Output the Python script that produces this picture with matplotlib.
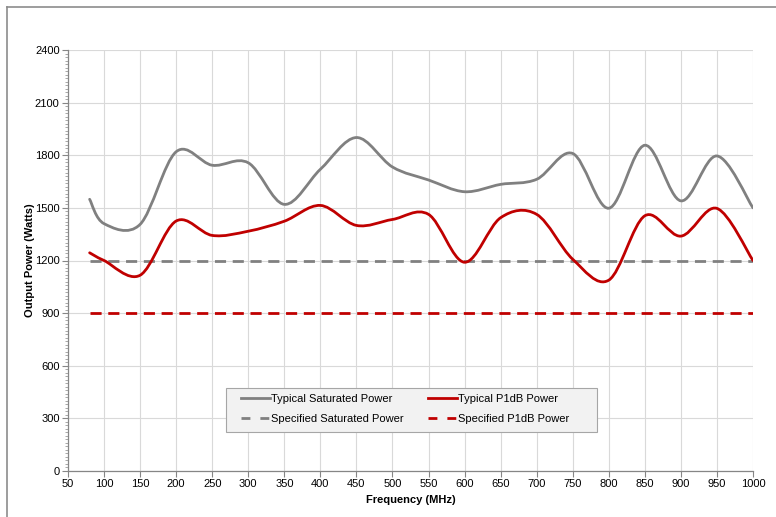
import numpy as np
import matplotlib
matplotlib.use("Agg")
import matplotlib.pyplot as plt
from matplotlib.path import Path
from matplotlib.patches import PathPatch, Rectangle
from matplotlib.lines import Line2D
from matplotlib.ticker import MultipleLocator

# ---- data ----
freq = [80, 100, 150, 200, 250, 300, 350, 400, 450, 500,
        550, 600, 650, 700, 750, 800, 850, 900, 950, 1000]
sat_typ = [1549, 1410, 1406, 1820, 1743, 1757, 1520, 1720, 1901, 1733,
           1659, 1592, 1634, 1663, 1810, 1498, 1857, 1540, 1796, 1500]
p1db_typ = [1244, 1200, 1116, 1425, 1343, 1367, 1424, 1514, 1400, 1434,
            1463, 1190, 1444, 1463, 1207, 1088, 1455, 1339, 1497, 1200]
sat_spec = 1200
p1db_spec = 900

x_ticks = list(range(50, 1001, 50))
y_ticks = list(range(0, 2401, 300))

GRAY, RED = "#808080", "#c00000"
GRID, AXIS = "#d9d9d9", "#868686"
W, H = 776, 517


def smooth_path(xs, ys):
    """Excel-style smoothed line: cubic Bezier through every point."""
    pts = np.column_stack([xs, ys]).astype(float)
    n = len(pts)
    verts, codes = [pts[0]], [Path.MOVETO]
    for i in range(n - 1):
        p0 = pts[i - 1] if i > 0 else pts[i]
        p1, p2 = pts[i], pts[i + 1]
        p3 = pts[i + 2] if i + 2 < n else pts[i + 1]
        verts += [p1 + (p2 - p0) / 6, p2 - (p3 - p1) / 6, p2]
        codes += [Path.CURVE4] * 3
    return Path(verts, codes)


plt.rcParams.update({"font.family": "sans-serif",
                     "font.sans-serif": ["Liberation Sans", "DejaVu Sans"]})
fig = plt.figure(figsize=(W / 100, H / 100), dpi=100)
ax = fig.add_axes([68 / W, 46 / H, 685 / W, 421 / H])

# outer chart border (top and left visible)
fig.add_artist(Line2D([7 / W, 1.0], [1 - 7 / H, 1 - 7 / H],
                      transform=fig.transFigure, color="#8c8c8c", lw=1.2))
fig.add_artist(Line2D([7 / W, 7 / W], [0, 1 - 7 / H],
                      transform=fig.transFigure, color="#8c8c8c", lw=1.2))

ax.hlines(sat_spec, freq[0], freq[-1], color=GRAY, lw=2.0,
          linestyles=(0, (4, 2.4)), zorder=3)
ax.hlines(p1db_spec, freq[0], freq[-1], color=RED, lw=2.0,
          linestyles=(0, (4, 2.4)), zorder=3)
ax.add_patch(PathPatch(smooth_path(freq, sat_typ), fill=False,
                       edgecolor=GRAY, lw=2.0, zorder=4, capstyle="round"))
ax.add_patch(PathPatch(smooth_path(freq, p1db_typ), fill=False,
                       edgecolor=RED, lw=2.0, zorder=4, capstyle="round"))

ax.set_xlim(50, 1000)
ax.set_ylim(0, 2400)
ax.set_xticks(x_ticks)
ax.set_yticks(y_ticks)
ax.yaxis.set_minor_locator(MultipleLocator(20))
ax.grid(True, which="major", color=GRID, lw=0.8, zorder=0)
ax.set_axisbelow(True)
for sp in ("top", "right"):
    ax.spines[sp].set_visible(False)
for sp in ("left", "bottom"):
    ax.spines[sp].set_color(AXIS)
    ax.spines[sp].set_linewidth(0.9)
ax.tick_params(which="major", length=4, width=0.8, color=AXIS,
               labelsize=8, labelcolor="#000000", pad=2)
ax.tick_params(axis="y", which="minor", length=2, width=0.5, color=AXIS)

ax.set_xlabel("Frequency (MHz)", fontsize=8, fontweight="bold", labelpad=4)
ax.set_ylabel("Output Power (Watts)", fontsize=8, fontweight="bold", labelpad=0)

# legend box (drawn separately so its padding matches the reference)
fig.add_artist(Rectangle((226 / W, 1 - 432 / H), 371 / W, 44 / H,
                         transform=fig.transFigure, facecolor="#f2f2f2",
                         edgecolor="#a6a6a6", lw=0.8, zorder=5))
handles = [
    Line2D([0], [0], color=GRAY, lw=2, label="Typical Saturated Power"),
    Line2D([0], [0], color=GRAY, lw=2, ls=(0, (3.2, 3.6)), label="Specified Saturated Power"),
    Line2D([0], [0], color=RED, lw=2, label="Typical P1dB Power"),
    Line2D([0], [0], color=RED, lw=2, ls=(0, (3.2, 3.6)), label="Specified P1dB Power"),
]
leg = fig.legend(handles=handles, ncol=2, loc="center left",
                 bbox_to_anchor=(232 / W, 1 - 409 / H), fontsize=8,
                 frameon=False, handlelength=2.6, handletextpad=0.1,
                 columnspacing=2.2, borderpad=0.3, labelspacing=0.9)
leg.set_zorder(6)

fig.savefig("out.png", dpi=100, facecolor="white")
